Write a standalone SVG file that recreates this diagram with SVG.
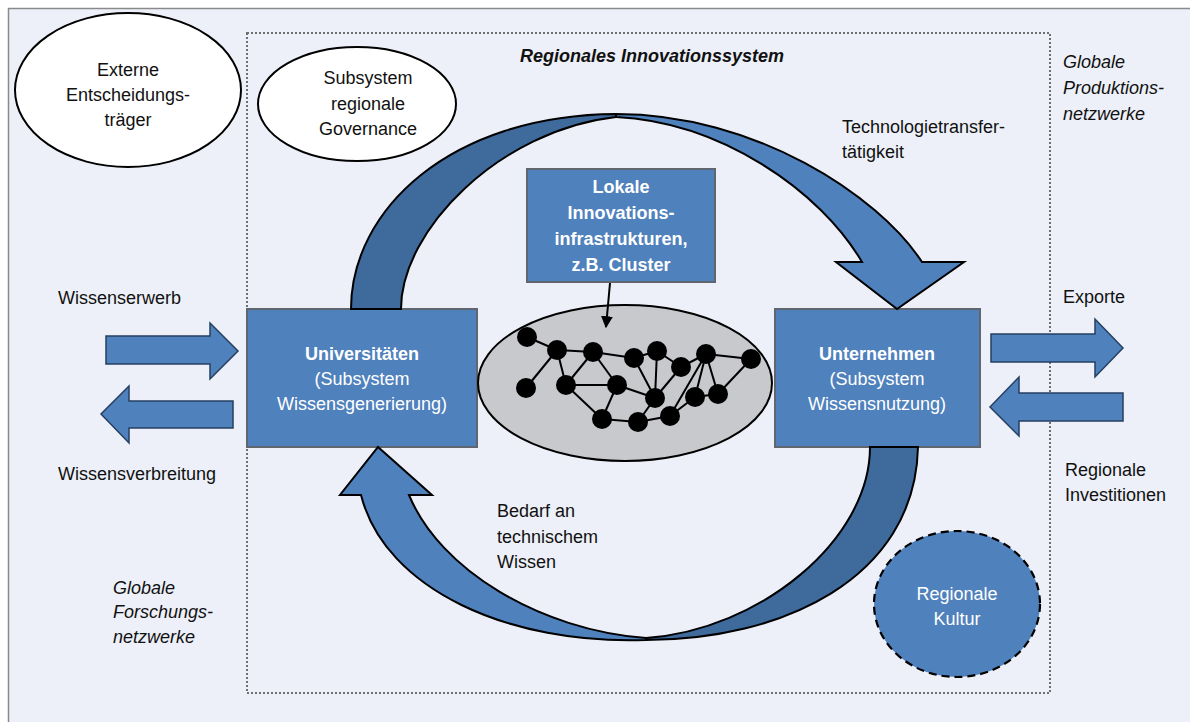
<svg xmlns="http://www.w3.org/2000/svg" width="1190" height="722" viewBox="0 0 1190 722">
<defs>
<style>
.t{font-family:"Liberation Sans",Arial,sans-serif;font-size:18px;fill:#111}
.w{font-family:"Liberation Sans",Arial,sans-serif;font-size:18px;fill:#fff}
.b{font-weight:bold}
.i{font-style:italic}
.m{text-anchor:middle}
.box{fill:#4F81BD;stroke:#5f6670;stroke-width:2}
.side{fill:#4F81BD;stroke:#243F60;stroke-width:1.5}
.lt{fill:#4F81BD;stroke:#000;stroke-width:2;stroke-linejoin:miter}
.dk{fill:#3E6A9C;stroke:#000;stroke-width:2}
.edge{stroke:#000;stroke-width:2}
.node{fill:#000}
</style>
<marker id="ah" viewBox="0 0 10 10" refX="9" refY="5" markerWidth="6" markerHeight="6" orient="auto" markerUnits="strokeWidth">
<path d="M0,0 L10,5 L0,10 Z" fill="#000"/>
</marker>
</defs>
<rect x="8.5" y="8.5" width="1200" height="730" fill="#EDF0F8" stroke="#8a8a8a" stroke-width="1.5"/>
<rect id="ris" x="247" y="33" width="803" height="660" fill="none" stroke="#6f6f6f" stroke-width="2" stroke-dasharray="2,2"/>
<text class="t b i m" x="652" y="62">Regionales Innovationssystem</text>

<g id="externe">
<ellipse cx="128" cy="90" rx="113" ry="77" fill="#fff" stroke="#000" stroke-width="2"/>
<text class="t m" x="128" y="76">Externe</text>
<text class="t m" x="128" y="101">Entscheidungs-</text>
<text class="t m" x="128" y="126">träger</text>
</g>

<g id="governance">
<ellipse cx="357" cy="104" rx="99" ry="57" fill="#fff" stroke="#000" stroke-width="2"/>
<text class="t m" x="368" y="84">Subsystem</text>
<text class="t m" x="368" y="110">regionale</text>
<text class="t m" x="368" y="135">Governance</text>
</g>

<g id="globprod">
<text class="t i" x="1063" y="68">Globale</text>
<text class="t i" x="1063" y="94">Produktions-</text>
<text class="t i" x="1063" y="120">netzwerke</text>
</g>

<g id="techtransfer">
<text class="t" x="842" y="133">Technologietransfer-</text>
<text class="t" x="842" y="158">tätigkeit</text>
</g>

<g id="lokale">
<rect class="box" x="527" y="169" width="188" height="113"/>
<text class="w b m" x="621" y="193">Lokale</text>
<text class="w b m" x="621" y="219">Innovations-</text>
<text class="w b m" x="621" y="245">infrastrukturen,</text>
<text class="w b m" x="621" y="271">z.B. Cluster</text>
</g>

<g id="universitaeten">
<rect class="box" x="247" y="309" width="230" height="138"/>
<text class="w b m" x="362" y="360">Universitäten</text>
<text class="w m" x="362" y="385">(Subsystem</text>
<text class="w m" x="362" y="410">Wissensgenerierung)</text>
</g>

<g id="unternehmen">
<rect class="box" x="775" y="309" width="205" height="138"/>
<text class="w b m" x="877" y="360">Unternehmen</text>
<text class="w m" x="877" y="385">(Subsystem</text>
<text class="w m" x="877" y="410">Wissensnutzung)</text>
</g>

<g id="cluster">
<ellipse cx="625" cy="383" rx="147" ry="78" fill="#C8C9CC" stroke="#000" stroke-width="2"/>
<g class="edge">
<line x1="527" y1="337" x2="557" y2="350"/>
<line x1="557" y1="350" x2="593" y2="352"/>
<line x1="593" y1="352" x2="634" y2="358"/>
<line x1="634" y1="358" x2="657" y2="351"/>
<line x1="657" y1="351" x2="681" y2="367"/>
<line x1="681" y1="367" x2="706" y2="354"/>
<line x1="706" y1="354" x2="751" y2="359"/>
<line x1="557" y1="350" x2="526" y2="388"/>
<line x1="557" y1="350" x2="566" y2="385"/>
<line x1="566" y1="385" x2="593" y2="352"/>
<line x1="593" y1="352" x2="617" y2="385"/>
<line x1="566" y1="385" x2="617" y2="385"/>
<line x1="566" y1="385" x2="602" y2="419"/>
<line x1="617" y1="385" x2="602" y2="419"/>
<line x1="617" y1="385" x2="655" y2="398"/>
<line x1="634" y1="358" x2="655" y2="398"/>
<line x1="657" y1="351" x2="655" y2="398"/>
<line x1="681" y1="367" x2="655" y2="398"/>
<line x1="706" y1="354" x2="670" y2="416"/>
<line x1="706" y1="354" x2="695" y2="397"/>
<line x1="706" y1="354" x2="718" y2="394"/>
<line x1="695" y1="397" x2="718" y2="394"/>
<line x1="751" y1="359" x2="718" y2="394"/>
<line x1="602" y1="419" x2="638" y2="422"/>
<line x1="638" y1="422" x2="670" y2="416"/>
<line x1="655" y1="398" x2="638" y2="422"/>
<line x1="670" y1="416" x2="695" y2="397"/>
</g>
<g class="node">
<circle cx="527" cy="337" r="10"/>
<circle cx="557" cy="350" r="10"/>
<circle cx="593" cy="352" r="10"/>
<circle cx="634" cy="358" r="10"/>
<circle cx="657" cy="351" r="10"/>
<circle cx="681" cy="367" r="10"/>
<circle cx="706" cy="354" r="10"/>
<circle cx="751" cy="359" r="10"/>
<circle cx="526" cy="388" r="10"/>
<circle cx="566" cy="385" r="10"/>
<circle cx="617" cy="385" r="10"/>
<circle cx="655" cy="398" r="10"/>
<circle cx="695" cy="397" r="10"/>
<circle cx="718" cy="394" r="10"/>
<circle cx="602" cy="419" r="10"/>
<circle cx="638" cy="422" r="10"/>
<circle cx="670" cy="416" r="10"/>
</g>
</g>

<g id="connectors">
<path class="dk" d="M351,309 C351,210 450,115 616,114 L616,117 C500,130 401,230 401,309 Z"/>
<path class="lt" d="M616,114 C755,114 878,195 922,262 L964,262 L897,309 L836,262 L862,262 C820,190 720,122 616,117 Z"/>
<path class="dk" d="M870,447 L918,447 C915,580 780,640 646,640 L646,638 C760,630 870,540 870,447 Z"/>
<path class="lt" d="M646,640 C510,645 385,590 361,495 L340,495 L378,447 L432,495 L409,495 C440,570 540,630 646,638 Z"/>
<line x1="610" y1="283" x2="606" y2="327" stroke="#000" stroke-width="2" marker-end="url(#ah)"/>
<path class="side" d="M106,336 L210,336 L210,323 L238,351 L210,379 L210,364 L106,364 Z"/>
<path class="side" d="M233,401 L129,401 L129,386 L101,414 L129,443 L129,428 L233,428 Z"/>
<path class="side" d="M991,334 L1095,334 L1095,319 L1123,348 L1095,377 L1095,362 L991,362 Z"/>
<path class="side" d="M1123,393 L1019,393 L1019,377 L990,407 L1019,436 L1019,421 L1123,421 Z"/>
</g>

<g id="labels">
<text class="t" x="58" y="304">Wissenserwerb</text>
<text class="t" x="58" y="480">Wissensverbreitung</text>
<text class="t" x="1063" y="303">Exporte</text>
<text class="t" x="1065" y="476">Regionale</text>
<text class="t" x="1065" y="501">Investitionen</text>
<text class="t i" x="113" y="594">Globale</text>
<text class="t i" x="113" y="618">Forschungs-</text>
<text class="t i" x="113" y="643">netzwerke</text>
<text class="t" x="497" y="517">Bedarf an</text>
<text class="t" x="497" y="543">technischem</text>
<text class="t" x="497" y="568">Wissen</text>
</g>

<g id="kultur">
<ellipse cx="957" cy="604" rx="83" ry="73" fill="#4F81BD" stroke="#000" stroke-width="2.2" stroke-dasharray="8,5"/>
<text class="w m" x="957" y="600">Regionale</text>
<text class="w m" x="957" y="625">Kultur</text>
</g>
</svg>
